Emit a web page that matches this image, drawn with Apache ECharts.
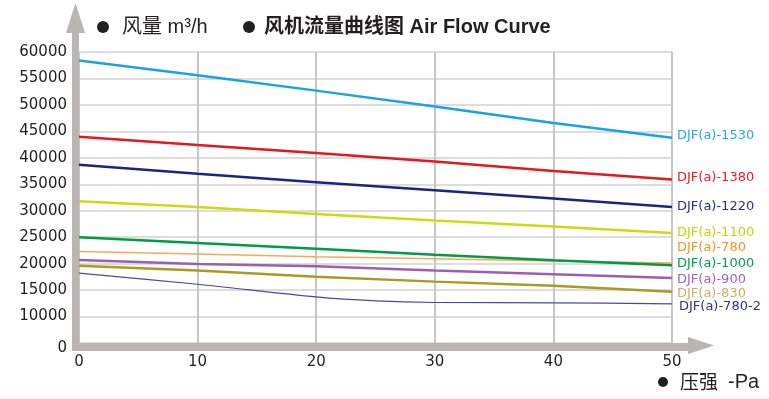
<!DOCTYPE html>
<html>
<head>
<meta charset="utf-8">
<script src="https://cdn.jsdelivr.net/npm/echarts@6/dist/echarts.min.js"></script>
<style>
html, body { margin: 0; padding: 0; background: #fff; }
#container { width: 769px; height: 399px; }
</style>
</head>
<body>
<div id="container"></div>
<script>
// 压强 (Pa)
var pressure = [0, 10, 20, 30, 40, 50];
var pressure2 = [0, 10, 20, 25, 30, 40, 50];
// 风量 m3/h
var djf1530 = [58400, 55600, 52700, 49700, 46600, 43800];
var djf1380 = [44000, 42400, 40900, 39300, 37500, 35900];
var djf1220 = [38700, 37000, 35400, 33850, 32300, 30700];
var djf1100 = [31800, 30700, 29400, 28150, 27000, 25800];
var djf780 = [22300, 21800, 21300, 20900, 20500, 20100];
var djf1000 = [25000, 23900, 22800, 21700, 20650, 19700];
var djf900 = [20700, 19950, 19500, 18700, 18000, 17300];
var djf830 = [19600, 18700, 17500, 16600, 15800, 14700];
var djf7802 = [18200, 16100, 13700, 12950, 12650, 12600, 12400];

var names = ['DJF(a)-1530', 'DJF(a)-1380', 'DJF(a)-1220', 'DJF(a)-1100', 'DJF(a)-780',
	'DJF(a)-1000', 'DJF(a)-900', 'DJF(a)-830', 'DJF(a)-780-2'];
var yTicks = [5000, 10000, 15000, 20000, 25000, 30000, 35000, 40000, 45000, 50000, 55000, 60000];

var dom = document.getElementById('container');
var myChart = echarts.init(dom);

var values = [djf1530, djf1380, djf1220, djf1100, djf780, djf1000, djf900, djf830, djf7802];
var lineColors = ['#1aa1e6', '#e5171f', '#1d2383', '#c9dc0e', '#f9a857', '#009b48', '#9c5fb0', '#a99b1f', '#4a48a6'];
var labelColors = ['#27aae1', '#ed1c24', '#2b3087', '#c7d300', '#f7941d', '#00a14b', '#a066b5', '#c9b06a', '#2e3192'];
var widths = [2.5, 2.5, 2.5, 2.5, 1.5, 2.5, 2.5, 2.5, 1.2];
var labelOffsets = [[0, -2], [0, -2], [0, 0], [0, 0], [0, -15], [0, -2], [0, 2], [0, 2], [2, 3]];

var series = [];
for (var i = 0; i < names.length; i++) {
	var xs = values[i].length === pressure2.length ? pressure2 : pressure;
	var d = [];
	for (var j = 0; j < values[i].length; j++) {
		d.push([xs[j], values[i][j]]);
	}
	series.push({
		name: names[i],
		type: 'line',
		data: d,
		symbol: 'none',
		smooth: i === 8 ? 0.3 : false,
		z: 3,
		lineStyle: { color: lineColors[i], width: widths[i] },
		endLabel: {
			show: true,
			formatter: '{a}',
			distance: 5,
			offset: labelOffsets[i],
			color: labelColors[i],
			fontSize: 13,
			fontFamily: 'DejaVu Sans'
		}
	});
}

var gl = 79, gt = 52, gr = 672, gb = 343;
var axisGray = '#b9b5b1';
var textDark = '#231f20';

var option = {
	animation: false,
	grid: { left: gl, top: gt, right: 769 - gr, bottom: 399 - gb },
	xAxis: {
		type: 'value',
		min: 0,
		max: 50,
		interval: 10,
		axisLine: { show: false },
		axisTick: { show: false },
		axisLabel: {
			margin: 12,
			color: textDark,
			fontSize: 15,
			fontFamily: 'DejaVu Sans'
		},
		splitLine: { lineStyle: { color: '#c6c6c6', width: 2 } }
	},
	yAxis: {
		type: 'value',
		min: yTicks[0],
		max: yTicks[yTicks.length - 1],
		interval: 5000,
		axisLine: { show: false },
		axisTick: { show: false },
		axisLabel: {
			margin: 12,
			color: textDark,
			fontSize: 15,
			fontFamily: 'DejaVu Sans',
			formatter: function (v) { // 坐标轴断开, 最低刻度显示为0
				return v === yTicks[0] ? '{z|0}' : String(v);
			},
			rich: { z: { padding: [10, 0, 0, 0], fontSize: 15, color: textDark, fontFamily: 'DejaVu Sans' } }
		},
		splitLine: { lineStyle: { color: '#d2d2d2', width: 1.5 } }
	},
	graphic: [
		// 坐标轴 (粗灰线 + 箭头)
		{ type: 'rect', z: 10, shape: { x: gl - 7, y: 30, width: 7, height: gb - 30 + 8 }, style: { fill: axisGray } },
		{ type: 'polygon', z: 10, shape: { points: [[gl - 13, 33], [gl + 6, 33], [gl - 3.5, 3]] }, style: { fill: axisGray } },
		{ type: 'rect', z: 10, shape: { x: gl - 7, y: gb, width: 690 - gl + 7, height: 8 }, style: { fill: axisGray } },
		{ type: 'polygon', z: 10, shape: { points: [[688, 337], [688, 354], [714, 345.5]] }, style: { fill: axisGray } },
		// 标题
		{ type: 'circle', z: 10, shape: { cx: 103, cy: 27, r: 6 }, style: { fill: textDark } },
		{ type: 'text', z: 10, style: { x: 122, y: 27, verticalAlign: 'middle', text: '风量 m³/h', fill: textDark, font: '20px "Liberation Sans", "Noto Sans CJK SC"' } },
		{ type: 'circle', z: 10, shape: { cx: 249, cy: 27, r: 6 }, style: { fill: textDark } },
		{ type: 'text', z: 10, style: { x: 264, y: 27, verticalAlign: 'middle', text: '风机流量曲线图 Air Flow Curve', fill: textDark, font: 'bold 20px "Liberation Sans", "Noto Sans CJK SC"' } },
		{ type: 'circle', z: 10, shape: { cx: 663, cy: 382, r: 5 }, style: { fill: textDark } },
		{ type: 'text', z: 10, style: { x: 680, y: 382, verticalAlign: 'middle', text: '压强', fill: textDark, font: '19px "Noto Sans CJK SC"' } },
		{ type: 'text', z: 10, style: { x: 728, y: 382, verticalAlign: 'middle', text: '-Pa', fill: textDark, font: '20px "Liberation Sans"' } },
		{ type: 'rect', z: 10, shape: { x: 0, y: 397, width: 769, height: 2 }, style: { fill: '#e2fbfb' } }
	],
	series: series
};

myChart.setOption(option);
</script>
</body>
</html>
